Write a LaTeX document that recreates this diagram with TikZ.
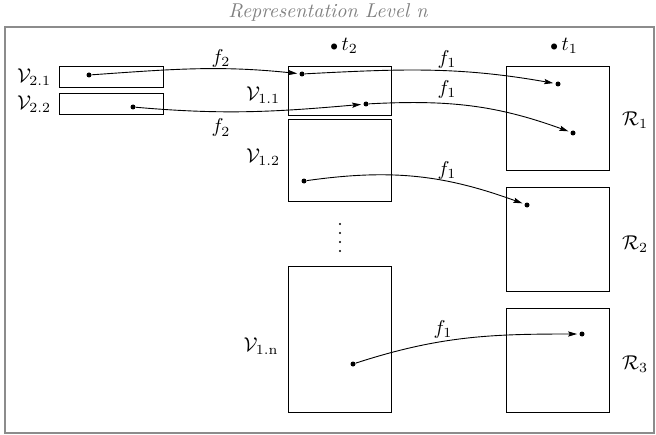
\documentclass[tikz,border=0pt]{standalone}
\usetikzlibrary{arrows.meta}
\begin{document}
\begin{tikzpicture}[x=0.5pt,y=0.5pt,
  box/.style={draw,line width=0.45pt,inner sep=0pt,minimum width=51.5pt},
  pt/.style={circle,fill,inner sep=0pt,minimum size=2.5pt},
  vdot/.style={circle,fill,inner sep=0pt,minimum size=1.2pt},
  conn/.style={line width=0.45pt,-{Stealth[length=4.5pt,width=2.6pt,inset=0.8pt]},shorten >=1pt},
  lbl/.style={inner sep=0pt}]
\useasboundingbox (0,0) rectangle (656,434);
% frame and title
\node[draw=black!45,line width=0.6pt,minimum width=324.5pt,minimum height=203pt,inner sep=0pt] (frame) at (329.5,204) {};
\node[text=black!50,font=\itshape] (title) at (328,421) {Representation Level n};
% boxes
\node[box,minimum width=52pt,minimum height=10.5pt] (v21) at (111,357.5) {};
\node[box,minimum width=52pt,minimum height=10.5pt] (v22) at (111,330.5) {};
\node[box,minimum height=24.5pt] (v11) at (339.5,343.5) {};
\node[box,minimum height=41pt] (v12) at (339.5,274) {};
\node[box,minimum height=73pt] (v1n) at (339.5,95) {};
\node[box,minimum height=52pt] (r1) at (557.5,316) {};
\node[box,minimum height=52pt] (r2) at (557.5,195) {};
\node[box,minimum height=52pt] (r3) at (557.5,74) {};
% labels
\node[lbl] (lv21) at (34,357) {$\mathcal{V}_{2.1}$};
\node[lbl] (lv22) at (34,330) {$\mathcal{V}_{2.2}$};
\node[lbl] (lv11) at (263,339) {$\mathcal{V}_{1.1}$};
\node[lbl] (lv12) at (263,277) {$\mathcal{V}_{1.2}$};
\node[lbl] (lv1n) at (261,88) {$\mathcal{V}_{\mathrm{1.n}}$};
\node[lbl] (lr1) at (635,314) {$\mathcal{R}_1$};
\node[lbl] (lr2) at (635,190) {$\mathcal{R}_2$};
\node[lbl] (lr3) at (635,70) {$\mathcal{R}_3$};
\node[lbl] (t2) at (344,388) {${\scriptstyle\bullet}\,t_2$};
\node[lbl] (t1) at (564,388) {${\scriptstyle\bullet}\,t_1$};
% vertical dots
\node[vdot] (vd1) at (340,210) {};
\node[vdot] (vd2) at (340,201) {};
\node[vdot] (vd3) at (340,192) {};
\node[vdot] (vd4) at (340,183) {};
% points
\node[pt] (d21) at (89,359) {};
\node[pt] (d11a) at (302,360) {};
\node[pt] (d22) at (133,327) {};
\node[pt] (d11b) at (366,330) {};
\node[pt] (r1a) at (558,350) {};
\node[pt] (r1b) at (573,301) {};
\node[pt] (d12) at (304,253) {};
\node[pt] (r2a) at (527,229) {};
\node[pt] (d1n) at (353,70) {};
\node[pt] (r3a) at (582,100) {};
% connectors
\draw[conn] (d21) to[out=4,in=174] (d11a);
\draw[conn] (d22) to[out=-5,in=185] (d11b);
\draw[conn] (d11a) to[out=3,in=170] (r1a);
\draw[conn] (d11b) to[out=3,in=160] (r1b);
\draw[conn] (d12) to[out=8,in=160] (r2a);
\draw[conn] (d1n) to[out=18,in=180] (r3a);
% connector labels
\node[lbl] (f2a) at (221,375) {$f_2$};
\node[lbl] (f2b) at (221,306) {$f_2$};
\node[lbl] (f1a) at (447,374) {$f_1$};
\node[lbl] (f1b) at (447,344) {$f_1$};
\node[lbl] (f1c) at (447,264) {$f_1$};
\node[lbl] (f1d) at (443,105) {$f_1$};
\end{tikzpicture}
\end{document}
